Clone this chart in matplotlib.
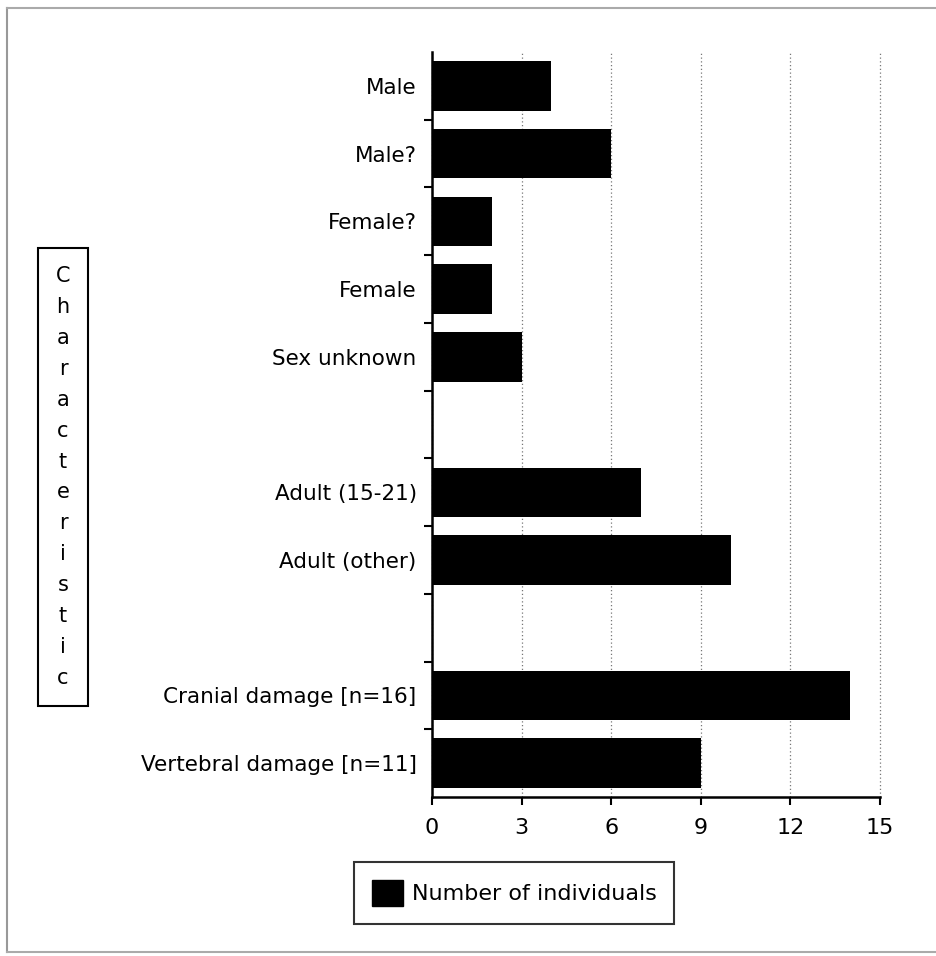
import matplotlib.pyplot as plt
from matplotlib.lines import Line2D
from matplotlib.patches import Patch

# Data (top to bottom), blanks are empty slots in the chart
categories = ['Male', 'Male?', 'Female?', 'Female', 'Sex unknown', '',
              'Adult (15-21)', 'Adult (other)', '',
              'Cranial damage [n=16]', 'Vertebral damage [n=11]']
values = [4, 6, 2, 2, 3, None, 7, 10, None, 14, 9]
xticks = [0, 3, 6, 9, 12, 15]

fig = plt.figure(figsize=(9.37, 9.56), dpi=100)
ax = fig.add_axes([0.461, 0.1663, 0.939 - 0.461, 0.9456 - 0.1663])

n = len(categories)
pos = list(range(n))
for p, v in zip(pos, values):
    if v is not None:
        ax.barh(p, v, height=0.73, color='black', zorder=3)

ax.set_ylim(n - 0.5, -0.5)
ax.set_xlim(0, 15)

ax.set_yticks(pos)
ax.set_yticklabels(categories, fontsize=15.5)
ax.tick_params(axis='y', which='major', length=0, pad=11)
ax.set_yticks([p + 0.5 for p in pos[:-1]], minor=True)
ax.tick_params(axis='y', which='minor', length=6, width=1.5, direction='out')

ax.set_xticks(xticks)
ax.set_xticklabels([str(t) for t in xticks], fontsize=16)
ax.tick_params(axis='x', length=6, width=1.5, direction='out', pad=9)

ax.xaxis.grid(True, linestyle=(0, (1, 2)), color='#777777', linewidth=0.9, zorder=0)
ax.set_axisbelow(True)
for gl in ax.get_xgridlines():
    gl.set_clip_on(False)

for s in ['top', 'right']:
    ax.spines[s].set_visible(False)
for s in ['left', 'bottom']:
    ax.spines[s].set_linewidth(1.8)

# Vertical stacked axis title in a box
fig.text(63 / 937, 1 - 477 / 956, '\n'.join('Characteristic'), fontsize=15,
         ha='center', va='center', linespacing=1.68,
         bbox=dict(boxstyle='square,pad=0.87', facecolor='white',
                   edgecolor='black', linewidth=1.5))

# Legend
leg = fig.legend(handles=[Patch(facecolor='black', edgecolor='black',
                                label='Number of individuals')],
                 loc='center', bbox_to_anchor=(514 / 937, 1 - 893 / 956),
                 fontsize=16, frameon=True, fancybox=False,
                 handlelength=1.4, handleheight=1.4, handletextpad=0.4,
                 borderpad=0.8, borderaxespad=0)
leg.get_frame().set_edgecolor('black')
leg.get_frame().set_linewidth(1.5)

# Outer gray frame
x0, y0, y1 = 7 / 937, 1 - 952 / 956, 1 - 8 / 956
fig.add_artist(Line2D([x0, x0], [y0, y1], color='#999999', linewidth=1.5))
fig.add_artist(Line2D([x0, 1], [y1, y1], color='#aaaaaa', linewidth=1.5))
fig.add_artist(Line2D([x0, 1], [y0, y0], color='#aaaaaa', linewidth=1.5))

fig.savefig('out.png', dpi=100, facecolor='white')
